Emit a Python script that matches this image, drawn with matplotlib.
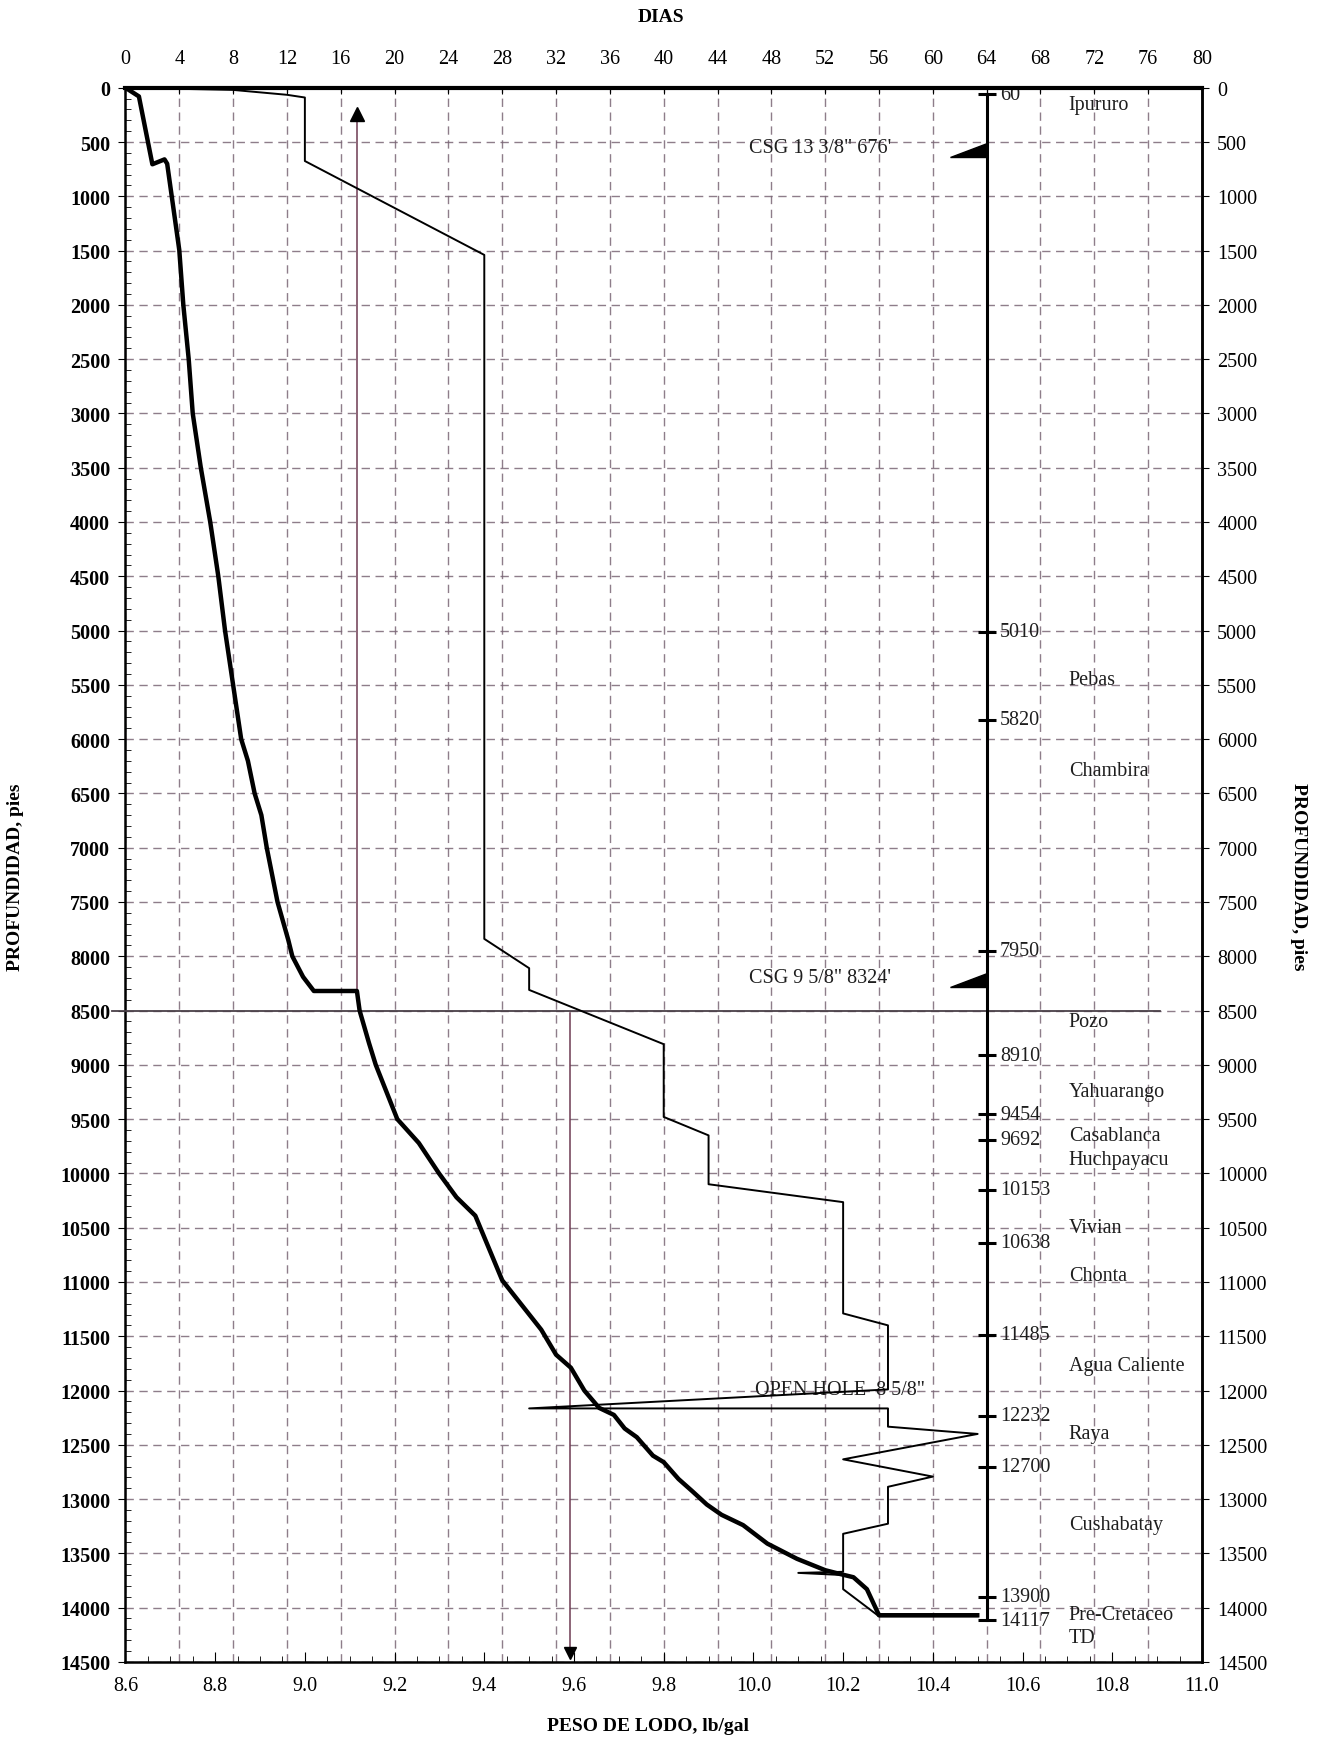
import matplotlib
matplotlib.use('Agg')
import matplotlib.pyplot as plt
from matplotlib.ticker import MultipleLocator

plt.rcParams['font.family'] = ['Liberation Serif', 'DejaVu Serif']

# avance de perforacion: dias vs profundidad (pies)
dias = [0, 1.0, 2.0, 2.9, 3.1, 4.0, 4.3, 4.7, 5.0, 5.6, 6.3, 6.9, 7.4, 8.0, 8.6,
        9.1, 9.6, 10.1, 10.5, 11.3, 12.1, 12.4, 13.2, 14.0, 17.2, 17.4, 18.1,
        18.6, 20.2, 21.8, 23.3, 24.6, 26.0, 28.0, 30.9, 32.0, 33.1, 34.1, 35.2,
        36.3, 37.1, 38.0, 39.2, 40.0, 41.1, 42.1, 43.2, 44.3, 45.9, 47.7, 49.9,
        52.0, 53.1, 54.1, 55.1, 56.0, 63.3]
prof_dias = [0, 80, 705, 660, 700, 1495, 2000, 2500, 3000, 3500, 4000, 4500,
             5000, 5500, 6000, 6200, 6500, 6700, 7000, 7500, 7850, 8000, 8190,
             8320, 8320, 8500, 8800, 9000, 9500, 9720, 10000, 10220, 10390,
             10985, 11440, 11670, 11790, 12000, 12160, 12225, 12350, 12430,
             12600, 12660, 12815, 12925, 13050, 13145, 13240, 13410, 13550,
             13655, 13690, 13720, 13830, 14070, 14070]

# peso de lodo (lb/gal) vs profundidad
peso = [8.6, 8.84, 8.96, 9.0, 9.0, 9.4, 9.4, 9.5, 9.5, 9.8, 9.8, 9.9, 9.9,
        10.2, 10.2, 10.3, 10.3, 9.5, 10.3, 10.3, 10.5, 10.2, 10.4, 10.3, 10.3,
        10.2, 10.2, 10.1, 10.2, 10.2, 10.28, 10.5]
prof_peso = [0, 20, 65, 90, 675, 1540, 7840, 8110, 8310, 8810, 9480, 9650,
             10100, 10265, 11290, 11400, 11990, 12165, 12165, 12333, 12400,
             12634, 12793, 12887, 13227, 13320, 13670, 13680, 13700, 13830,
             14080, 14080]

# topes de formacion
topes = [60, 5010, 5820, 7950, 8910, 9454, 9692, 10153, 10638, 11485, 12232,
         12700, 13900, 14117]
formaciones = ['Ipururo', 'Pebas', 'Chambira', 'Pozo', 'Yahuarango',
               'Casablanca', 'Huchpayacu', 'Vivian', 'Chonta', 'Agua Caliente',
               'Raya', 'Cushabatay', 'Pre-Cretaceo', 'TD']
prof_formaciones = [150, 5450, 6290, 8600, 9245, 9653, 9868, 10502, 10942,
                    11770, 12394, 13233, 14061, 14275]

casing_txt = ['CSG 13 3/8" 676\'', 'CSG 9 5/8" 8324\'']
casing_prof = [676, 8324]

prof_pozo = 8500
dia_marcas = 64

fig = plt.figure(figsize=(13.22, 17.40), dpi=100)
ax = fig.add_axes([0.0949, 0.0443, 0.8143, 0.9047])
ax.set_xlim(0, 80)
ax.set_ylim(14500, 0)

ax_lodo = ax.twiny()
ax_lodo.set_xlim(8.6, 11.0)
for s in ax_lodo.spines.values():
    s.set_visible(False)

# ejes y grilla
grid_col = '#7a6676'
ax.xaxis.set_major_locator(MultipleLocator(4))
ax.yaxis.set_major_locator(MultipleLocator(500))
ax.yaxis.set_minor_locator(MultipleLocator(100))
ax.grid(True, which='major', ls=(0, (6, 4)), color=grid_col, lw=1.0, alpha=0.85)
ax.set_axisbelow(True)

ax.xaxis.set_ticks_position('top')
ax.tick_params(axis='x', which='major', direction='in', length=4, pad=14,
               labelsize=14.5, top=True, bottom=False)
ax.tick_params(axis='y', which='major', direction='out', length=5, pad=6,
               labelsize=14.5, left=True, right=False)
ax.tick_params(axis='y', which='minor', direction='in', length=4,
               left=True, right=False)
for lbl in ax.get_yticklabels():
    lbl.set_fontweight('bold')

ax_lodo.xaxis.set_ticks_position('bottom')
ax_lodo.xaxis.set_major_locator(MultipleLocator(0.2))
ax_lodo.xaxis.set_minor_locator(MultipleLocator(0.05))
ax_lodo.xaxis.set_major_formatter(lambda v, p: f'{v:.1f}')
ax_lodo.tick_params(axis='x', which='major', direction='in', length=7, pad=10,
                    labelsize=14.5, bottom=True, top=False)
ax_lodo.tick_params(axis='x', which='minor', direction='in', length=4,
                    bottom=True, top=False)

der = ax.secondary_yaxis('right')
der.set_yticks(range(0, 14501, 500))
der.tick_params(direction='out', length=5, pad=6, labelsize=14.5)
der.spines['right'].set_linewidth(1.8)

ax.spines['top'].set_linewidth(3.0)
ax.spines['left'].set_linewidth(1.8)
ax.spines['bottom'].set_linewidth(1.8)
ax.spines['right'].set_linewidth(1.8)

# curvas
ax.plot(dias, prof_dias, color='black', lw=3.2, solid_joinstyle='round', zorder=5)
ax_lodo.plot(peso, prof_peso, color='black', lw=1.4, zorder=4)

# flechas de lectura
flecha_col = '#6e3a52'
ax.plot([17.2, 17.2], [8320, 260], color=flecha_col, lw=1.1, zorder=3)
ax.plot(17.2, 240, marker='^', ms=10, color='black', zorder=6)
ax.plot([33.0, 33.0], [prof_pozo + 20, 14430], color=flecha_col, lw=1.1, zorder=3)
ax.plot(33.0, 14420, marker='v', ms=9, color='black', zorder=6, clip_on=False)

# linea del pozo
ax.plot([-1.0, 76.9], [prof_pozo, prof_pozo], color='#4a4048', lw=1.3,
        zorder=3, clip_on=False)

# columna de topes
ax.plot([dia_marcas, dia_marcas], [topes[0], topes[-1]], color='black', lw=2.2, zorder=5)
ax.plot([dia_marcas] * len(topes), topes, ls='none', marker='_', ms=13,
        mew=2.2, color='black', zorder=5)
for t in topes:
    ax.text(dia_marcas + 1.0, t, f'{t}', fontsize=14.5, va='center', ha='left',
            color='#1e1e1e', zorder=2)
for nom, p in zip(formaciones, prof_formaciones):
    ax.text(70.1, p, nom, fontsize=14.5, va='center', ha='left', color='#1e1e1e')

# zapatos de revestimiento
for txt, p in zip(casing_txt, casing_prof):
    ax.fill([dia_marcas, dia_marcas, 61.3], [p - 170, p - 40, p - 40],
            color='black', zorder=6)
    ax.text(51.6, p - 130, txt, fontsize=14.5, ha='center', va='center', color='#1e1e1e')

ax.text(53.1, 11990, 'OPEN HOLE  8 5/8"', fontsize=14.5, ha='center', va='center',
        color='#1e1e1e')

# titulos
fig.text(0.50, 0.990, 'DIAS', fontsize=14, fontweight='bold', ha='center', va='center')
fig.text(0.49, 0.008, 'PESO DE LODO, lb/gal', fontsize=14, fontweight='bold',
         ha='center', va='center')
fig.text(0.012, 0.496, 'PROFUNDIDAD, pies', fontsize=14, fontweight='bold',
         rotation=90, ha='center', va='center')
fig.text(0.982, 0.496, 'PROFUNDIDAD, pies', fontsize=14, fontweight='bold',
         rotation=270, ha='center', va='center')

fig.savefig('out.png', dpi=100)
